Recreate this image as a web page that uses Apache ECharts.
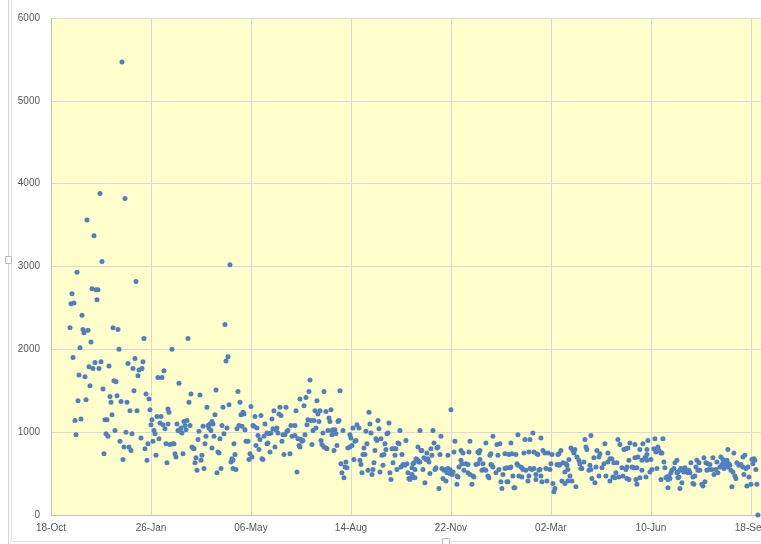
<!DOCTYPE html>
<html>
<head>
<meta charset="utf-8">
<title>Scatter</title>
<script src="https://cdn.jsdelivr.net/npm/echarts@6/dist/echarts.min.js"></script>
<style>
  html, body { margin: 0; padding: 0; overflow: hidden; background: #fff; }
  #chart { width: 870px; height: 544px; }
</style>
</head>
<body>
<div id="chart"></div>
<script>
// x = days since 18-Oct-2017, y = value
const startDate = Date.UTC(2017, 9, 18);
const monthNames = ['Jan','Feb','Mar','Apr','May','Jun','Jul','Aug','Sep','Oct','Nov','Dec'];
const yTicks = [0, 1000, 2000, 3000, 4000, 5000, 6000];

const segWinter1 = [
  [49,3880],[74,3820],[36,3560],[43,3370],[51,3060],[26,2930],[85,2820],[21,2670],[41,2730],[45,2720],
  [47,2720],[20,2550],[23,2560],[46,2600],[31,2410],[19,2260],[32,2240],[33,2200],[37,2230],[62,2260],
  [67,2240],[40,2090],[93,2130],[29,2020],[68,2000],[22,1900],[38,1790],[44,1840],[50,1850],[42,1770],
  [48,1770],[58,1800],[77,1830],[84,1890],[92,1850],[82,1770],[88,1750],[91,1770],[87,1680],[28,1690],
  [34,1670],[107,1660],[111,1660],[113,1740],[39,1560],[52,1520],[63,1620],[65,1610],[83,1500],[59,1430],
  [66,1440],[95,1460],[98,1400],[27,1380],[35,1390],[60,1360],[70,1370],[76,1360],[79,1260],[86,1260],
  [99,1270],[117,1280],[118,1240],[61,1210],[54,1150],[56,1150],[24,1140],[30,1160],[106,1190],[110,1190],
  [101,1150],[100,1090],[109,1110],[112,1090],[117,1100],[114,1040],[103,1020],[104,980],[25,970],[64,1020],
  [55,980],[57,950],[75,1000],[81,980],[90,930],[108,920],[115,860],[119,850],[97,860],[102,890],
  [69,890],[73,820],[78,820],[80,780],[94,800],[53,740],[72,670],[96,660],[105,720],[116,630],[71,5470]
];

const segSpring1 = [
  [179,3020],[174,2300],[137,2130],[121,2000],[177,1910],[175,1860],[128,1590],[140,1460],[149,1450],[165,1510],
  [187,1490],[138,1360],[156,1300],[172,1300],[178,1330],[189,1360],[200,1310],[164,1210],[190,1210],[192,1240],
  [193,1220],[204,1190],[210,1200],[223,1260],[229,1300],[235,1300],[228,1220],[230,1200],[221,1160],[126,1100],
  [133,1130],[136,1140],[139,1080],[134,1080],[130,1050],[127,1020],[129,1010],[131,990],[135,1030],[148,1010],
  [152,1070],[157,1080],[159,1100],[161,1130],[162,1100],[158,1050],[160,1020],[171,1080],[176,1050],[186,1040],
  [188,1080],[191,1070],[194,1030],[202,1080],[203,1070],[206,1050],[214,1100],[222,1040],[225,1030],[226,1050],
  [227,990],[216,990],[218,980],[220,990],[232,970],[234,970],[236,1010],[237,1020],[240,1080],[173,980],
  [163,950],[169,920],[155,950],[147,910],[207,960],[209,910],[195,890],[197,890],[213,950],[241,950],
  [231,890],[122,860],[123,860],[141,820],[143,800],[142,810],[154,860],[161,810],[183,860],[205,840],
  [208,790],[216,860],[217,870],[224,820],[219,760],[124,740],[125,700],[132,740],[151,720],[145,690],
  [144,630],[150,660],[167,760],[168,750],[184,730],[181,680],[180,640],[182,660],[199,740],[201,700],
  [198,670],[211,680],[212,670],[233,730],[239,740],[146,540],[153,560],[166,510],[170,560],[182,560],[185,550]
];

const segSummer1 = [
  [259,1630],[258,1490],[249,1400],[255,1420],[273,1490],[289,1500],[266,1380],[253,1320],[245,1260],[264,1260],
  [269,1260],[267,1220],[275,1250],[280,1270],[278,1170],[279,1130],[287,1130],[288,1140],[318,1240],[257,1150],
  [260,1140],[263,1140],[268,1130],[256,1090],[265,1050],[244,1080],[262,1020],[272,990],[277,1020],[282,1030],
  [284,1030],[281,1020],[292,1020],[281,970],[285,980],[299,970],[300,930],[302,1050],[306,1090],[308,1050],
  [319,1100],[327,1140],[338,1110],[328,1040],[315,1010],[320,990],[337,990],[336,980],[349,1020],[244,960],
  [247,920],[250,910],[251,890],[252,900],[254,970],[270,900],[271,850],[273,820],[275,810],[276,800],
  [248,840],[249,820],[261,850],[283,780],[286,840],[297,810],[299,820],[301,840],[304,890],[305,900],
  [313,810],[316,860],[312,730],[314,730],[324,780],[325,920],[326,900],[330,920],[334,860],[335,790],
  [341,800],[343,800],[345,800],[347,870],[348,860],[355,900],[331,720],[333,730],[344,720],[351,730],
  [246,520],[303,670],[309,660],[310,610],[290,620],[295,640],[294,580],[296,570],[291,510],[293,450],
  [311,510],[317,540],[322,550],[321,490],[323,630],[329,520],[332,600],[339,510],[340,430],[342,630],
  [346,550],[350,580],[352,610],[354,600],[356,620],[357,510],[358,440],[359,430],[360,450],[361,570],
  [362,620],[361,490],[362,460]
];

const segWinter2 = [
  [400,1270],[369,1020],[382,1020],[390,950],[383,870],[387,820],[386,810],[367,820],[404,890],[419,890],
  [435,870],[442,950],[446,850],[449,860],[460,870],[467,970],[474,910],[479,910],[370,780],[371,780],
  [376,750],[380,800],[389,730],[397,720],[403,760],[410,780],[412,750],[418,760],[427,760],[429,780],
  [428,750],[439,720],[440,740],[447,720],[454,740],[458,730],[461,740],[465,730],[473,750],[478,760],
  [363,630],[366,670],[365,680],[368,640],[373,690],[375,670],[377,680],[378,640],[381,720],[364,550],
  [372,550],[385,570],[384,550],[391,560],[393,540],[395,550],[397,560],[399,550],[402,520],[399,500],
  [396,510],[408,580],[410,660],[411,620],[407,460],[406,470],[413,540],[415,620],[417,610],[419,490],
  [422,470],[423,460],[417,510],[425,610],[427,620],[429,670],[432,620],[431,540],[433,550],[435,540],
  [437,470],[438,450],[440,610],[441,600],[442,580],[445,510],[448,550],[450,400],[451,320],[452,490],
  [456,400],[457,400],[454,560],[456,570],[459,570],[460,580],[462,470],[463,330],[464,330],[466,620],
  [467,600],[470,580],[471,570],[472,550],[468,470],[471,460],[475,540],[477,410],[478,470],[479,560],
  [364,450],[374,390],[388,320],[392,440],[395,410],[401,490],[406,370],[421,370],[379,500],[369,640],[367,660]
];

const segSpring2 = [
  [482,990],[490,930],[540,960],[534,910],[554,860],[567,910],[569,850],[579,870],[584,850],[592,860],
  [597,900],[483,760],[487,730],[486,740],[492,780],[494,750],[497,750],[501,730],[507,730],[508,740],
  [510,780],[520,810],[522,780],[524,790],[523,750],[535,820],[536,790],[546,780],[549,740],[548,700],
  [557,750],[559,680],[566,630],[573,790],[575,800],[577,810],[589,790],[596,790],[587,700],[591,660],
  [594,690],[596,660],[595,680],[526,700],[528,660],[529,620],[530,560],[533,640],[531,560],[539,600],
  [540,550],[538,540],[543,690],[518,670],[512,630],[515,620],[516,600],[506,610],[508,600],[509,610],
  [500,620],[514,520],[517,550],[499,550],[495,560],[489,550],[488,540],[481,550],[483,560],[485,490],
  [485,430],[491,400],[496,410],[490,470],[502,380],[504,320],[503,280],[511,410],[514,380],[517,410],
  [521,410],[519,470],[525,340],[541,440],[544,390],[548,470],[545,580],[551,570],[553,620],[555,470],
  [559,410],[557,640],[561,680],[563,630],[562,460],[564,450],[565,510],[568,460],[572,470],[571,570],
  [575,550],[578,660],[576,580],[581,580],[583,570],[584,690],[586,570],[585,430],[586,370],[589,450],
  [591,540],[595,460],[578,430],[576,440]
];

const segSummer2 = [
  [604,920],[612,920],[607,820],[608,780],[610,750],[611,750],[603,800],[605,760],[596,730],[600,670],
  [601,550],[599,520],[606,560],[613,640],[614,570],[624,630],[626,660],[677,790],[683,750],[692,700],
  [694,720],[701,670],[703,680],[670,700],[672,670],[662,690],[666,640],[653,690],[655,630],[646,660],
  [648,630],[640,630],[634,570],[630,560],[629,540],[632,540],[621,540],[623,560],[620,510],[618,470],
  [627,520],[626,510],[615,450],[616,460],[619,440],[617,430],[610,430],[617,330],[629,320],[631,390],
  [627,450],[628,460],[633,520],[635,540],[638,540],[639,510],[637,510],[642,460],[644,470],[642,380],
  [643,370],[647,540],[649,540],[645,580],[651,370],[652,350],[654,400],[656,540],[658,550],[657,620],
  [659,610],[661,550],[663,490],[665,550],[667,510],[669,580],[671,610],[673,560],[675,610],[677,580],
  [678,620],[679,600],[673,630],[676,660],[680,540],[682,520],[684,470],[685,440],[681,340],[686,630],
  [688,600],[690,610],[692,580],[693,490],[695,560],[697,580],[698,460],[696,350],[700,370],[702,620],
  [704,660],[705,550],[706,370],[707,0]
];

const points = [].concat(segWinter1, segSpring1, segSummer1, segWinter2, segSpring2, segSummer2);

const dayLabel = (d) => {
  const dt = new Date(startDate + d * 86400000);
  const dd = String(dt.getUTCDate()).padStart(2, '0');
  return dd + '-' + monthNames[dt.getUTCMonth()];
};

const labelFont = { color: '#595959', fontSize: 10, fontFamily: 'Liberation Sans, Arial, sans-serif' };

const myChart = echarts.init(document.getElementById('chart'), null, { renderer: 'canvas' });

const option = {
  animation: false,
  backgroundColor: '#ffffff',
  grid: {
    left: 51, top: 18, bottom: 29, right: 16,
    show: true, backgroundColor: '#FFFFCC', borderWidth: 0
  },
  xAxis: {
    type: 'value', min: 0, max: 800, interval: 100,
    axisLine: { show: true, onZero: false, lineStyle: { color: '#BFBFBF', width: 1 } },
    axisTick: { show: false },
    splitLine: { show: true, lineStyle: { color: '#D9D9D9', width: 1 } },
    axisLabel: Object.assign({ margin: 8, formatter: dayLabel }, labelFont)
  },
  yAxis: {
    type: 'value', min: yTicks[0], max: yTicks[yTicks.length - 1], interval: 1000,
    axisLine: { show: true, lineStyle: { color: '#BFBFBF', width: 1 } },
    axisTick: { show: false },
    splitLine: { show: true, lineStyle: { color: '#D9D9D9', width: 1 } },
    axisLabel: Object.assign({ margin: 11, formatter: (v) => String(v) }, labelFont)
  },
  series: [{
    type: 'scatter',
    data: points,
    symbol: 'circle',
    symbolSize: 5,
    silent: true,
    itemStyle: { color: '#4F7FC1', opacity: 1 }
  }],
  graphic: [
    { type: 'line', silent: true, shape: { x1: 8.5, y1: 0, x2: 8.5, y2: 544 }, style: { stroke: '#D4D4D4', lineWidth: 1 } },
    { type: 'line', silent: true, shape: { x1: 11.5, y1: 0, x2: 11.5, y2: 541.5 }, style: { stroke: '#E3E3E3', lineWidth: 1 } },
    { type: 'line', silent: true, shape: { x1: 11.5, y1: 541.5, x2: 870, y2: 541.5 }, style: { stroke: '#E3E3E3', lineWidth: 1 } },
    { type: 'rect', silent: true, shape: { x: 5.5, y: 256.5, width: 6, height: 7 }, style: { fill: '#fff', stroke: '#BDBDBD', lineWidth: 1 } },
    { type: 'rect', silent: true, shape: { x: 442.5, y: 538.5, width: 7, height: 6 }, style: { fill: '#fff', stroke: '#BDBDBD', lineWidth: 1 } }
  ]
};

myChart.setOption(option);
</script>
</body>
</html>
